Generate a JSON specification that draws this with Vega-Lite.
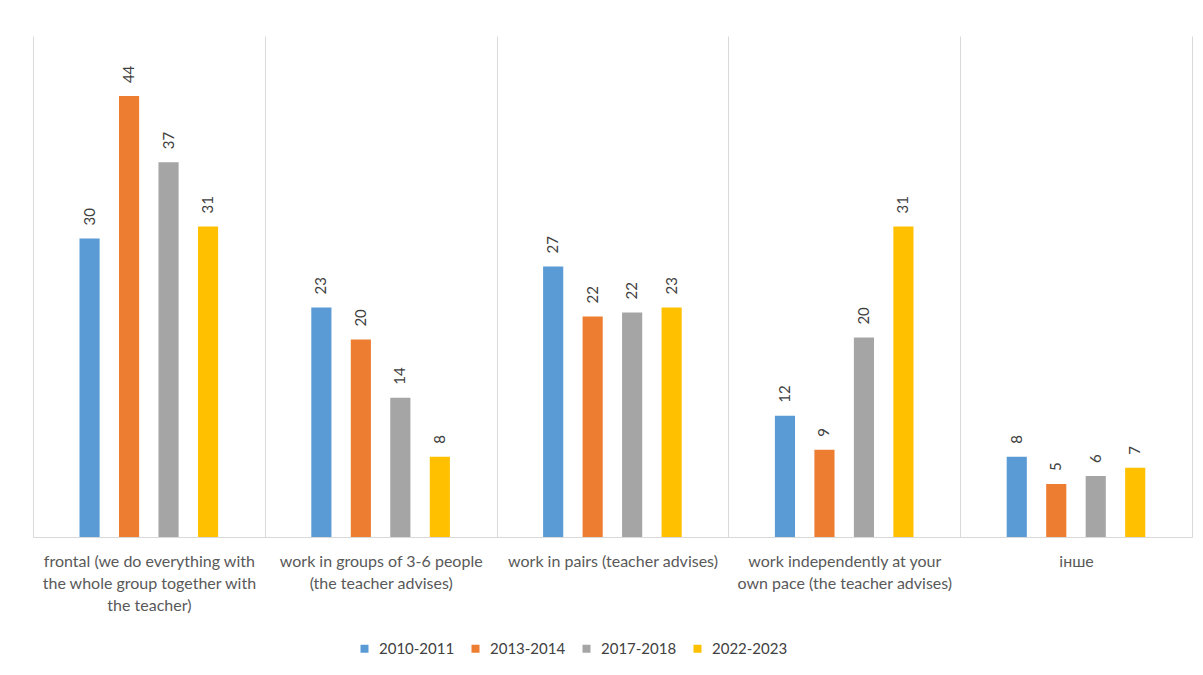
{
  "$schema": "https://vega.github.io/schema/vega-lite/v6.json",
  "width": 1159,
  "height": 501,
  "padding": {"left": 33, "top": 36, "right": 11, "bottom": 0},
  "autosize": {"type": "pad"},
  "background": "white",
  "config": {"view": {"stroke": null}, "font": "Lato"},
  "data": {
    "values": [
      {"category": "frontal (we do everything with the whole group together with the teacher)", "year": "2010-2011", "value": 29.8},
      {"category": "frontal (we do everything with the whole group together with the teacher)", "year": "2013-2014", "value": 44},
      {"category": "frontal (we do everything with the whole group together with the teacher)", "year": "2017-2018", "value": 37.4},
      {"category": "frontal (we do everything with the whole group together with the teacher)", "year": "2022-2023", "value": 31},
      {"category": "work in groups of 3-6 people (the teacher advises)", "year": "2010-2011", "value": 22.9},
      {"category": "work in groups of 3-6 people (the teacher advises)", "year": "2013-2014", "value": 19.7},
      {"category": "work in groups of 3-6 people (the teacher advises)", "year": "2017-2018", "value": 13.9},
      {"category": "work in groups of 3-6 people (the teacher advises)", "year": "2022-2023", "value": 8},
      {"category": "work in pairs (teacher advises)", "year": "2010-2011", "value": 27},
      {"category": "work in pairs (teacher advises)", "year": "2013-2014", "value": 22},
      {"category": "work in pairs (teacher advises)", "year": "2017-2018", "value": 22.4},
      {"category": "work in pairs (teacher advises)", "year": "2022-2023", "value": 22.9},
      {"category": "work independently at your own pace (the teacher advises)", "year": "2010-2011", "value": 12.1},
      {"category": "work independently at your own pace (the teacher advises)", "year": "2013-2014", "value": 8.7},
      {"category": "work independently at your own pace (the teacher advises)", "year": "2017-2018", "value": 19.9},
      {"category": "work independently at your own pace (the teacher advises)", "year": "2022-2023", "value": 31},
      {"category": "інше", "year": "2010-2011", "value": 8},
      {"category": "інше", "year": "2013-2014", "value": 5.3},
      {"category": "інше", "year": "2017-2018", "value": 6.1},
      {"category": "інше", "year": "2022-2023", "value": 6.9}
    ]
  },
  "encoding": {
    "x": {
      "field": "category",
      "type": "nominal",
      "sort": null,
      "scale": {"paddingInner": 0, "paddingOuter": 0},
      "axis": {
        "title": null,
        "labelAngle": 0,
        "domain": true,
        "domainColor": "#d9d9d9",
        "ticks": false,
        "grid": true,
        "gridColor": "#d9d9d9",
        "tickBand": "extent",
        "labelFontSize": 16,
        "labelColor": "#595959",
        "labelPadding": 16,
        "labelLimit": 240,
        "labelLineHeight": 22,
        "labelBaseline": "top",
        "labelExpr": "datum.value == 'frontal (we do everything with the whole group together with the teacher)' ? ['frontal (we do everything with', 'the whole group together with', 'the teacher)'] : datum.value == 'work in groups of 3-6 people (the teacher advises)' ? ['work in groups of 3-6 people', '(the teacher advises)'] : datum.value == 'work independently at your own pace (the teacher advises)' ? ['work independently at your', 'own pace (the teacher advises)'] : datum.value"
      }
    },
    "xOffset": {
      "field": "year",
      "type": "nominal",
      "scale": {"paddingInner": 0.49, "paddingOuter": 0, "range": [46.5, 185.1]}
    },
    "y": {
      "field": "value",
      "type": "quantitative",
      "scale": {"domain": [0, 50]},
      "axis": null
    }
  },
  "layer": [
    {
      "mark": {"type": "bar"},
      "encoding": {
        "color": {
          "field": "year",
          "type": "nominal",
          "title": null,
          "scale": {"domain": ["2010-2011", "2013-2014", "2017-2018", "2022-2023"], "range": ["#5B9BD5", "#ED7D31", "#A5A5A5", "#FFC000"]},
          "legend": {
            "orient": "none",
            "direction": "horizontal",
            "legendX": 324,
            "legendY": 605,
            "symbolType": "square",
            "symbolSize": 64,
            "symbolStrokeWidth": 0,
            "labelFontSize": 15,
            "labelColor": "#404040",
            "labelOffset": 7,
            "columnPadding": 13
          }
        }
      }
    },
    {
      "mark": {"type": "text", "angle": 270, "align": "left", "baseline": "middle", "dx": 13, "fontSize": 15, "color": "#404040"},
      "encoding": {"text": {"field": "value", "type": "quantitative", "format": ".0f"}}
    }
  ]
}
